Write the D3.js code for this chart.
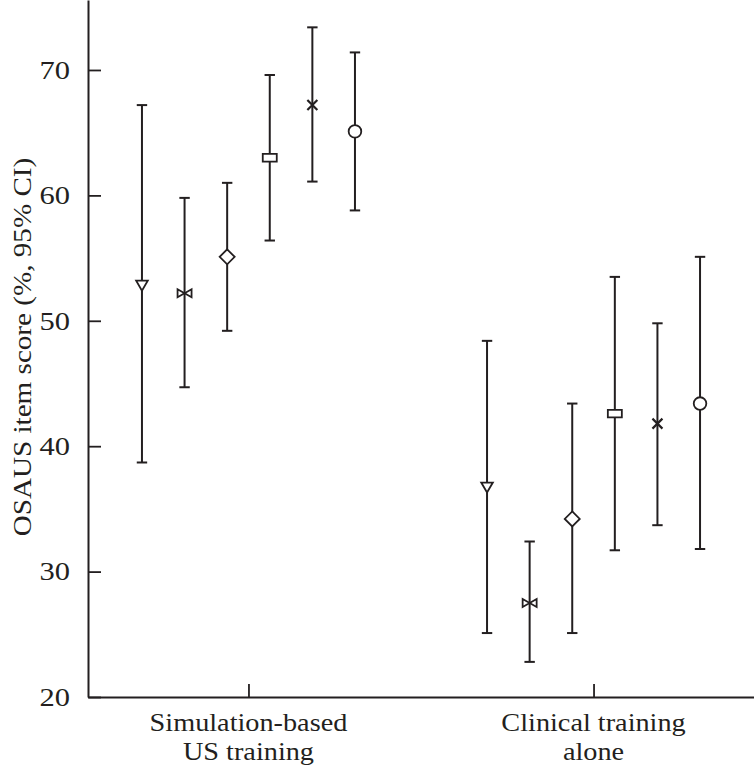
<!DOCTYPE html>
<html><head><meta charset="utf-8">
<script src="https://cdn.jsdelivr.net/npm/d3@7"></script>
<style>
html,body{margin:0;padding:0;background:#fff;}
svg text{font-family:"Liberation Serif","DejaVu Serif",serif;fill:#231f20;}
</style></head>
<body><svg id="c" width="754" height="766"></svg>
<script>
const groups = ["Simulation-based|US training", "Clinical training|alone"];
const seriesShapes = ["triangleDown", "bowtie", "diamond", "square", "cross", "circle"];
const simMean  = [52.8, 52.2, 55.1, 63.0, 67.2, 65.1];
const simLow   = [38.7, 44.7, 49.2, 56.4, 61.1, 58.8];
const simHigh  = [67.2, 59.8, 61.0, 69.6, 73.4, 71.4];
const clinMean = [36.7, 27.5, 34.2, 42.6, 41.8, 43.4];
const clinLow  = [25.1, 22.8, 25.1, 31.7, 33.7, 31.8];
const clinHigh = [48.4, 32.4, 43.4, 53.5, 49.8, 55.1];
const yTicks = [20, 30, 40, 50, 60, 70];
const yLabel = "OSAUS item score (%, 95% CI)";

const ink = "#231f20";
const svg = d3.select("#c");
const mLeft = 88, mRight = 754, mTop = 0, mBottom = 697;

const y = d3.scaleLinear().domain([20, 75.58]).range([mBottom, mTop]);
const x = d3.scalePoint().domain(groups).range([mLeft, mRight]).padding(0.465);
const xs = d3.scalePoint().domain(seriesShapes).range([-106.5, 106.5]);

// stretch text horizontally (reference typeface is wider than Liberation Serif)
function widen(sel, factor) {
  sel.each(function () {
    const w = this.getComputedTextLength();
    d3.select(this).attr("textLength", w * factor).attr("lengthAdjust", "spacingAndGlyphs");
  });
}

// axes
const yAxis = d3.axisLeft(y).tickValues(yTicks).tickSizeInner(-13).tickSizeOuter(0).tickPadding(18).tickFormat(d3.format("d"));
const gy = svg.append("g").attr("transform", `translate(${mLeft},0)`).call(yAxis);
gy.select(".domain").attr("stroke", ink).attr("stroke-width", 2);
gy.selectAll(".tick line").attr("stroke", ink).attr("stroke-width", 1.8);
gy.selectAll(".tick text").attr("font-size", 25).attr("fill", ink).attr("dy", "0.33em")
  .style("font-family", '"Liberation Serif",serif');
widen(gy.selectAll(".tick text"), 1.22);

const xAxis = d3.axisBottom(x).tickSizeInner(-13).tickSizeOuter(0).tickFormat("");
const gx = svg.append("g").attr("transform", `translate(0,${mBottom})`).call(xAxis);
gx.select(".domain").attr("stroke", ink).attr("stroke-width", 2);
gx.selectAll(".tick line").attr("stroke", ink).attr("stroke-width", 1.8);

// x labels (two lines)
groups.forEach(g => {
  const lines = g.split("|");
  lines.forEach((l, i) => {
    const t = svg.append("text").attr("text-anchor", "middle").attr("font-size", 25)
      .attr("x", x(g)).attr("y", 731 + i * 29).text(l);
    widen(t, 1.13);
  });
});

// y label
const yl = svg.append("text")
  .attr("transform", `translate(31,347) rotate(-90)`)
  .attr("text-anchor", "middle").attr("font-size", 26).text(yLabel);
widen(yl, 1.12);

// data
const data = [];
groups.forEach((g, gi) => {
  const m = gi === 0 ? simMean : clinMean;
  const lo = gi === 0 ? simLow : clinLow;
  const hi = gi === 0 ? simHigh : clinHigh;
  seriesShapes.forEach((s, si) => data.push({g, s, mean: m[si], lo: lo[si], hi: hi[si]}));
});

const capW = 5.2;
const gBars = svg.append("g").attr("stroke", ink).attr("stroke-width", 2).attr("fill", "none");
data.forEach(d => {
  const cx = x(d.g) + xs(d.s);
  gBars.append("line").attr("x1", cx).attr("x2", cx).attr("y1", y(d.hi)).attr("y2", y(d.lo));
  gBars.append("line").attr("x1", cx - capW).attr("x2", cx + capW).attr("y1", y(d.hi)).attr("y2", y(d.hi));
  gBars.append("line").attr("x1", cx - capW).attr("x2", cx + capW).attr("y1", y(d.lo)).attr("y2", y(d.lo));
});

function shapePath(s) {
  switch (s) {
    case "triangleDown": return "M-5.8,-5 L5.8,-5 L0,5 Z";
    case "bowtie": return "M-7,-4 L7,4 L7,-4 L-7,4 Z";
    case "diamond": return "M0,-7.5 L7.5,0 L0,7.5 L-7.5,0 Z";
    case "square": return "M-7,-3.8 L7,-3.8 L7,3.8 L-7,3.8 Z";
    case "cross": return "M-5,-5 L5,5 M5,-5 L-5,5";
    case "circle": return "M6.3,0 A6.3,6.3 0 1,1 -6.3,0 A6.3,6.3 0 1,1 6.3,0 Z";
  }
}
const gM = svg.append("g");
data.forEach(d => {
  const cx = x(d.g) + xs(d.s);
  gM.append("path").attr("d", shapePath(d.s))
    .attr("transform", `translate(${cx},${y(d.mean)})`)
    .attr("fill", d.s === "cross" ? "none" : "#fff")
    .attr("stroke", ink).attr("stroke-width", d.s === "cross" ? 2.2 : 1.8);
});
</script></body></html>
